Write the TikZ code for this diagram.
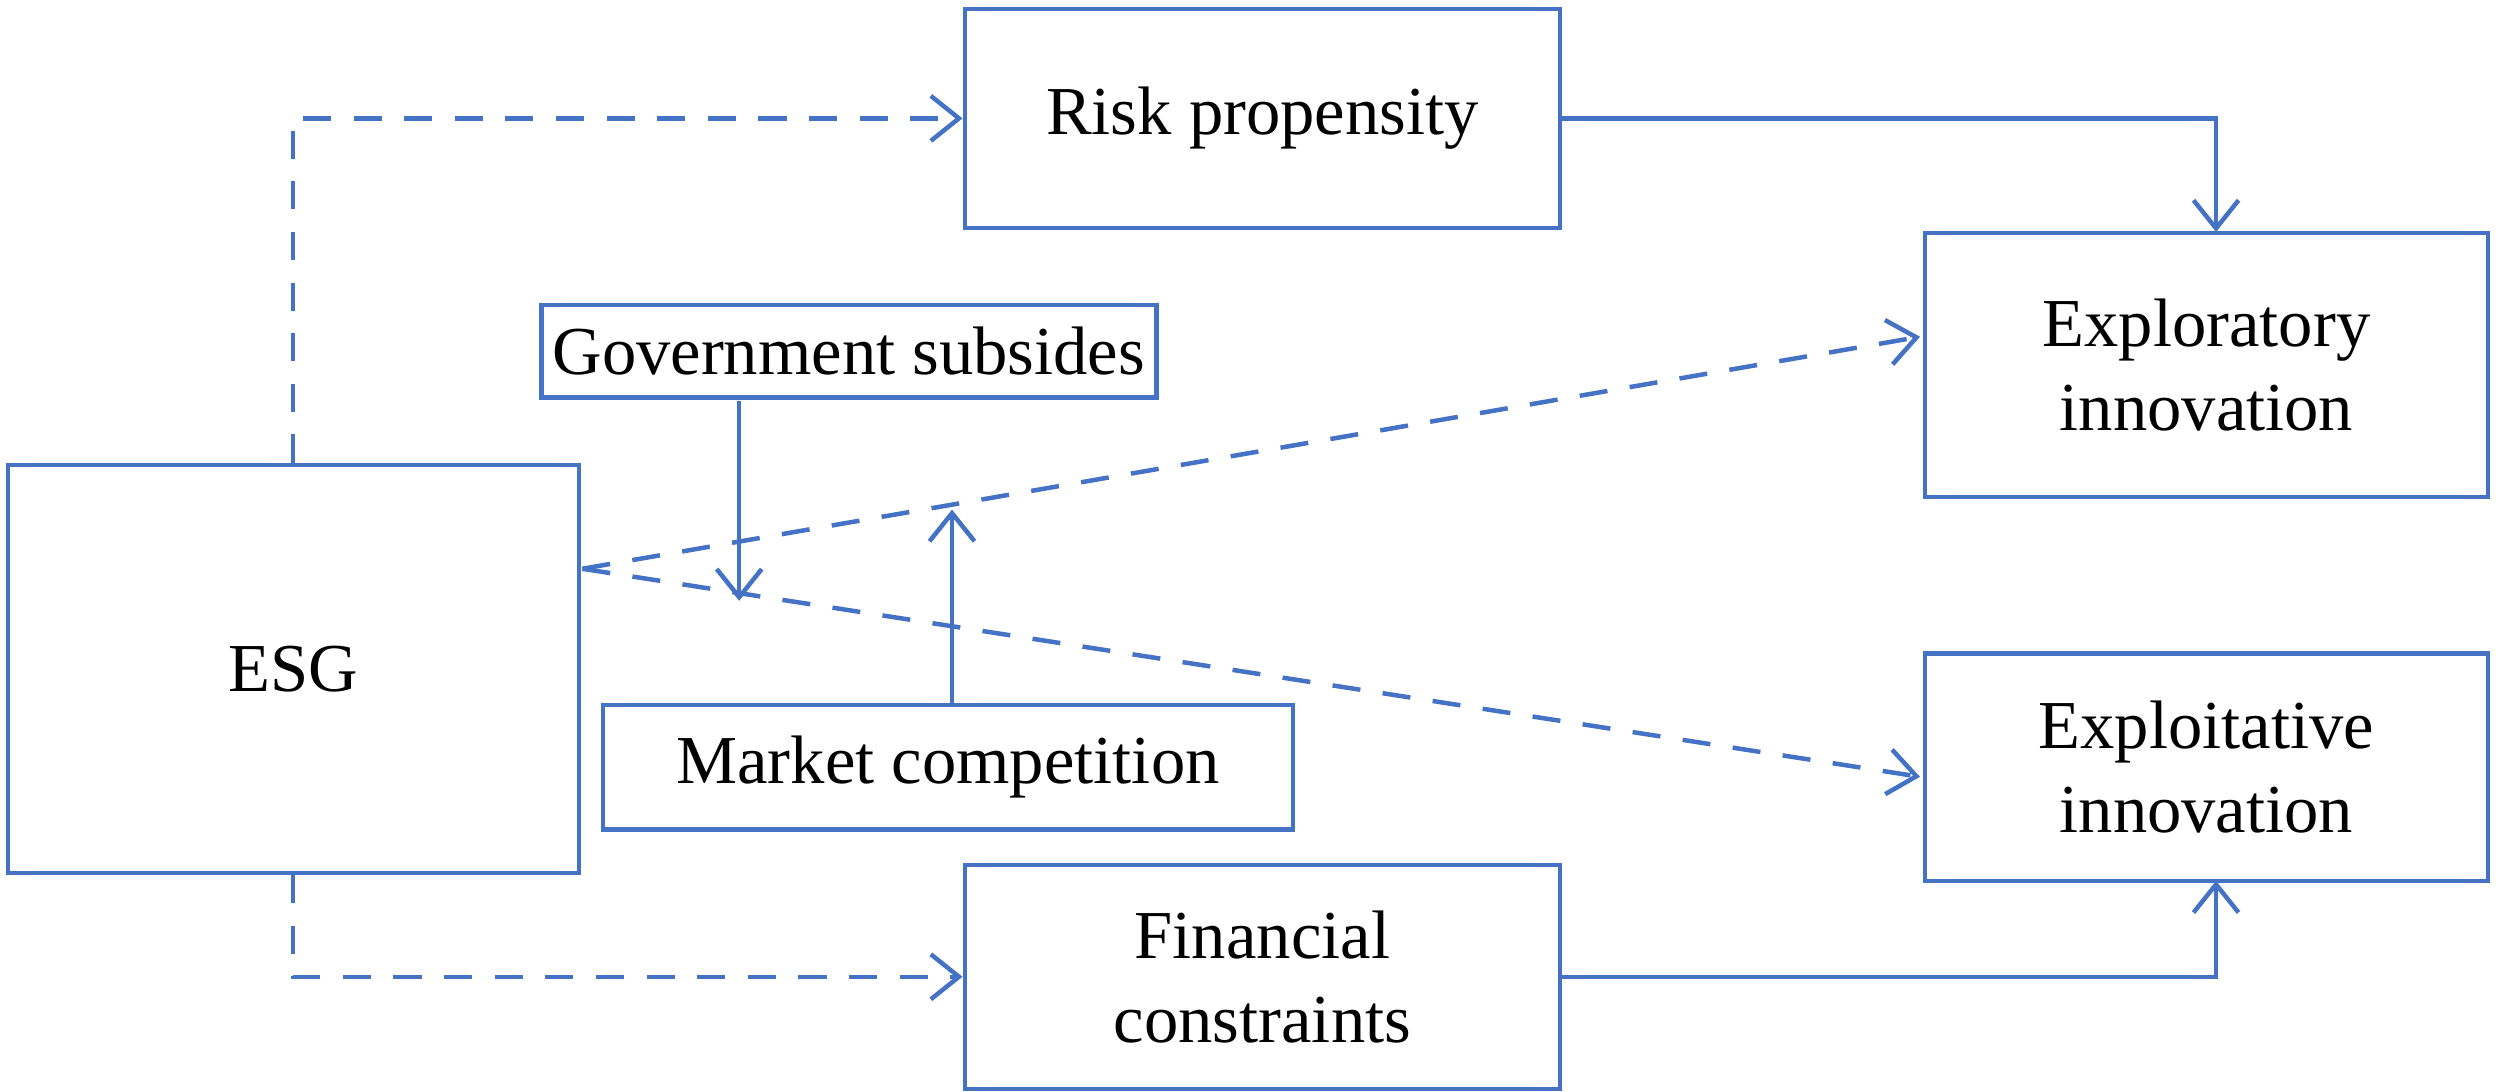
\documentclass[tikz,border=0pt]{standalone}
\usepackage{fontspec}
\setmainfont{Liberation Serif}
\usetikzlibrary{positioning,arrows.meta}
\definecolor{lineblue}{HTML}{4472C4}
\begin{document}
\begin{tikzpicture}
        [every node/.style={draw=lineblue,line width=0.8pt,align=center,font=\fontsize{12.2}{15}\selectfont,inner sep=2pt},
         link/.style={draw=lineblue,line width=0.8pt,-{Straight Barb[length=5pt,width=8pt]}},
         dlink/.style={link,dashed,dash pattern=on 5pt off 4pt}]
        \useasboundingbox (0,0) rectangle (15.625,6.825);
        %Boxes
        \node[minimum width=3.57cm,minimum height=2.55cm] (ESG) at (1.835,2.645) {ESG};
        \node[minimum width=3.72cm,minimum height=1.37cm] (RP) at (7.89,6.085) {Risk propensity};
        \node[minimum width=3.52cm,minimum height=1.65cm] (EXR) at (13.79,4.545) {Exploratory\\innovation};
        \node[minimum width=3.15cm,minimum height=0.58cm] (GS) at (5.305,4.63) {Government subsides};
        \node[minimum width=4.31cm,minimum height=0.78cm] (MC) at (5.925,2.03) {Market competition};
        \node[minimum width=3.52cm,minimum height=1.42cm] (EXT) at (13.79,2.03) {Exploitative\\innovation};
        \node[minimum width=3.72cm,minimum height=1.40cm] (FC) at (7.89,0.72) {Financial\\constraints};

        \coordinate (S) at (3.64,3.27);
        \coordinate (Up) at (5.95,3.64);
        \coordinate (Lo) at (4.62,3.07);

        %Paths
        \draw[dlink] (ESG.north -| 1.83,0) |- (RP.west);
        \draw[dlink] (ESG.south -| 1.83,0) |- (FC.west);
        \draw[dlink] (S) -- (12,4.72);
        \draw[dlink] (S) -- (12,1.97);
        \draw[link] (RP.east) -| (13.85,5.375);
        \draw[link] (FC.east) -| (13.85,1.32);
        \draw[link] (4.62,4.32) -- (Lo);
        \draw[link] (MC.north -| Up) -- (Up);
    \end{tikzpicture}
\end{document}
